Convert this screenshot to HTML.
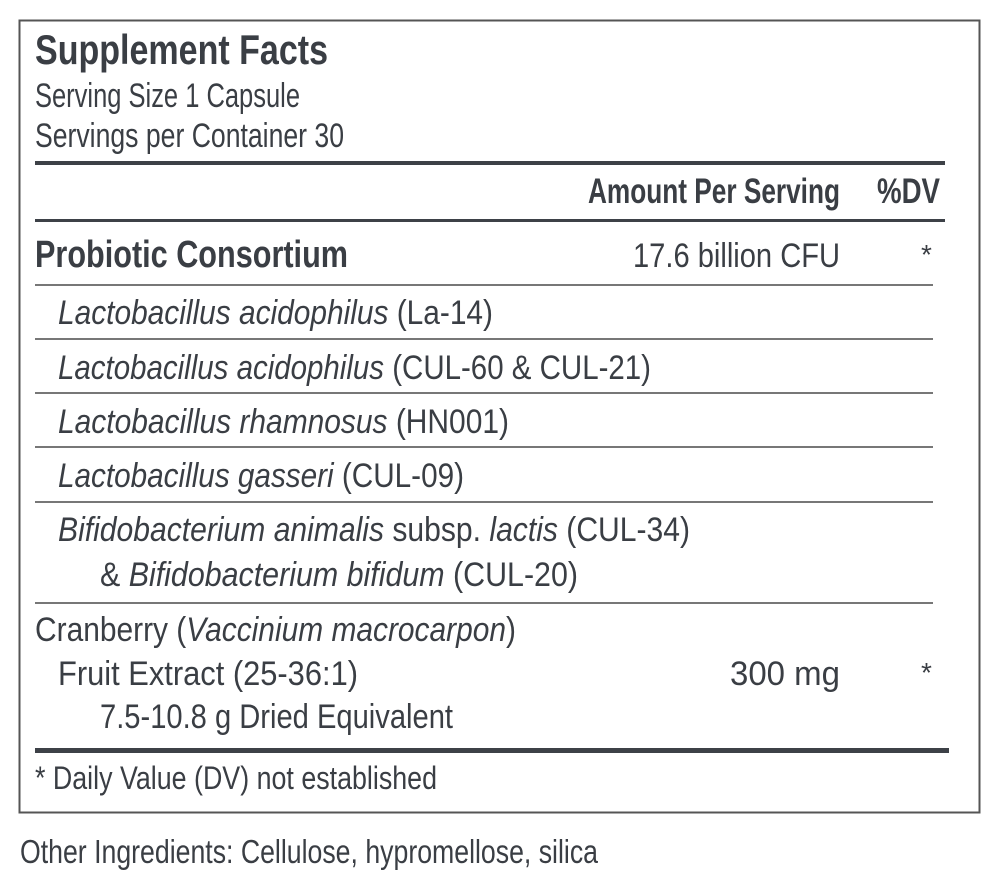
<!DOCTYPE html>
<html><head><meta charset="utf-8"><style>
html,body{margin:0;padding:0;background:#fff;width:1000px;height:893px;overflow:hidden}
svg{display:block}
text{font-family:"Liberation Sans Narrow","Liberation Sans",sans-serif;fill:#3a3e44}
.b{font-weight:bold}
</style></head><body>
<svg width="1000" height="893" viewBox="0 0 1000 893" xmlns="http://www.w3.org/2000/svg">
<rect x="19.5" y="20.5" width="960" height="792" fill="none" stroke="#555" stroke-width="2"/>
<rect x="35" y="161" width="910" height="4" fill="#3d4147"/>
<rect x="35" y="219" width="910" height="3" fill="#3d4147"/>
<g fill="#777">
<rect x="35" y="284" width="898" height="2"/>
<rect x="35" y="338" width="898" height="2"/>
<rect x="35" y="392" width="898" height="2"/>
<rect x="35" y="446" width="898" height="2"/>
<rect x="35" y="501" width="898" height="2"/>
<rect x="35" y="602" width="898" height="2"/>
</g>
<rect x="35" y="748" width="914" height="5" fill="#3d4147"/>

<text class="b" x="35" y="64" font-size="42" textLength="293" lengthAdjust="spacingAndGlyphs">Supplement Facts</text>
<text x="35" y="107" font-size="34" textLength="265" lengthAdjust="spacingAndGlyphs">Serving Size 1 Capsule</text>
<text x="35" y="147" font-size="34" textLength="309" lengthAdjust="spacingAndGlyphs">Servings per Container 30</text>
<text class="b" x="588" y="203" font-size="35" textLength="252" lengthAdjust="spacingAndGlyphs">Amount Per Serving</text>
<text class="b" x="877" y="203" font-size="35" textLength="63" lengthAdjust="spacingAndGlyphs">%DV</text>
<text class="b" x="35" y="267" font-size="38" textLength="313" lengthAdjust="spacingAndGlyphs">Probiotic Consortium</text>
<text x="633" y="267" font-size="34" textLength="207" lengthAdjust="spacingAndGlyphs">17.6 billion  CFU</text>
<text x="921" y="264" font-size="28">*</text>
<text x="58" y="324" font-size="34" textLength="435" lengthAdjust="spacingAndGlyphs"><tspan font-style="italic">Lactobacillus acidophilus</tspan> (La-14)</text>
<text x="58" y="379" font-size="34" textLength="593" lengthAdjust="spacingAndGlyphs"><tspan font-style="italic">Lactobacillus acidophilus</tspan> (CUL-60 &amp; CUL-21)</text>
<text x="58" y="433" font-size="34" textLength="451" lengthAdjust="spacingAndGlyphs"><tspan font-style="italic">Lactobacillus rhamnosus</tspan> (HN001)</text>
<text x="58" y="487" font-size="34" textLength="406" lengthAdjust="spacingAndGlyphs"><tspan font-style="italic">Lactobacillus gasseri</tspan> (CUL-09)</text>
<text x="58" y="541" font-size="34" textLength="632" lengthAdjust="spacingAndGlyphs"><tspan font-style="italic">Bifidobacterium animalis</tspan> subsp. <tspan font-style="italic">lactis</tspan> (CUL-34)</text>
<text x="100" y="586" font-size="34" textLength="478" lengthAdjust="spacingAndGlyphs">&amp; <tspan font-style="italic">Bifidobacterium bifidum</tspan> (CUL-20)</text>
<text x="35" y="641" font-size="34" textLength="481" lengthAdjust="spacingAndGlyphs">Cranberry (<tspan font-style="italic">Vaccinium macrocarpon</tspan>)</text>
<text x="58" y="685" font-size="34" textLength="300" lengthAdjust="spacingAndGlyphs">Fruit Extract (25-36:1)</text>
<text x="730" y="685" font-size="34" textLength="110" lengthAdjust="spacingAndGlyphs">300  mg</text>
<text x="921" y="682" font-size="28">*</text>
<text x="100" y="728" font-size="34" textLength="353" lengthAdjust="spacingAndGlyphs">7.5-10.8 g Dried Equivalent</text>
<text x="35" y="789" font-size="32" textLength="402" lengthAdjust="spacingAndGlyphs">* Daily Value (DV) not established</text>
<text x="20" y="863" font-size="33" textLength="578" lengthAdjust="spacingAndGlyphs">Other Ingredients: Cellulose, hypromellose, silica</text>
</svg>
</body></html>
